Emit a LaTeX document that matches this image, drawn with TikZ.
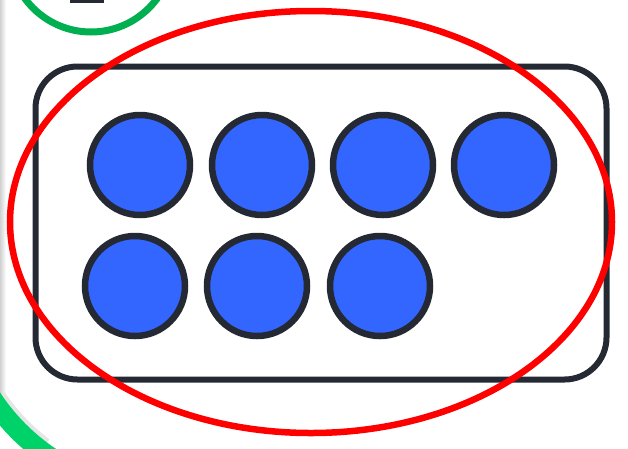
\documentclass[tikz,border=0pt]{standalone}
\usepackage{xcolor}
\usepackage{tikz}
\usetikzlibrary{shapes.geometric}
\definecolor{figdark}{RGB}{36,41,51}
\definecolor{figblue}{RGB}{51,102,255}
\definecolor{figred}{RGB}{255,0,0}
\definecolor{figgreen}{RGB}{0,176,80}
\definecolor{figlime}{RGB}{0,210,106}
\tikzset{
  tray/.style={draw=figdark, line width=6pt, rounded corners=42pt, minimum width=571pt, minimum height=313pt, inner sep=0pt},
  counter/.style={circle, draw=figdark, line width=6.5pt, fill=figblue, minimum size=100pt, inner sep=0pt},
  loop/.style={ellipse, draw=figred, line width=6.5pt, minimum width=602pt, minimum height=422pt, inner sep=0pt},
  topring/.style={circle, draw=figgreen, line width=7pt, minimum size=164pt, inner sep=0pt},
  glyph/.style={draw=figdark, line width=3pt, minimum width=31pt, minimum height=30pt, inner sep=0pt}
}

\begin{document}
\begin{tikzpicture}[x=1pt,y=-1pt]
  \useasboundingbox (0,0) rectangle (628,448);
  \fill[white] (0,0) rectangle (628,448);
  % card edge
  \shade[left color=black!18, right color=white] (0,0) rectangle (6,405);
  \draw[black!10, line width=4pt] (168,282) ++(146:199) arc[start angle=146, end angle=127, radius=199];
  \draw[figlime, line width=20pt] (168,282) ++(155:211) arc[start angle=155, end angle=120, radius=211];

  \node[topring] (ring) at (91,-50) {};
  \node[glyph] (box) at (86.5,-14) {};

  \node[tray] (tray) at (321,223) {};
  \foreach \x [count=\i] in {140,262,383,504} {
    \node[counter] (top\i) at (\x,165) {};
  }
  \foreach \x [count=\i] in {135,257,380} {
    \node[counter] (low\i) at (\x,286) {};
  }
  \node[loop] (group) at (311,222) {};
\end{tikzpicture}
\end{document}
